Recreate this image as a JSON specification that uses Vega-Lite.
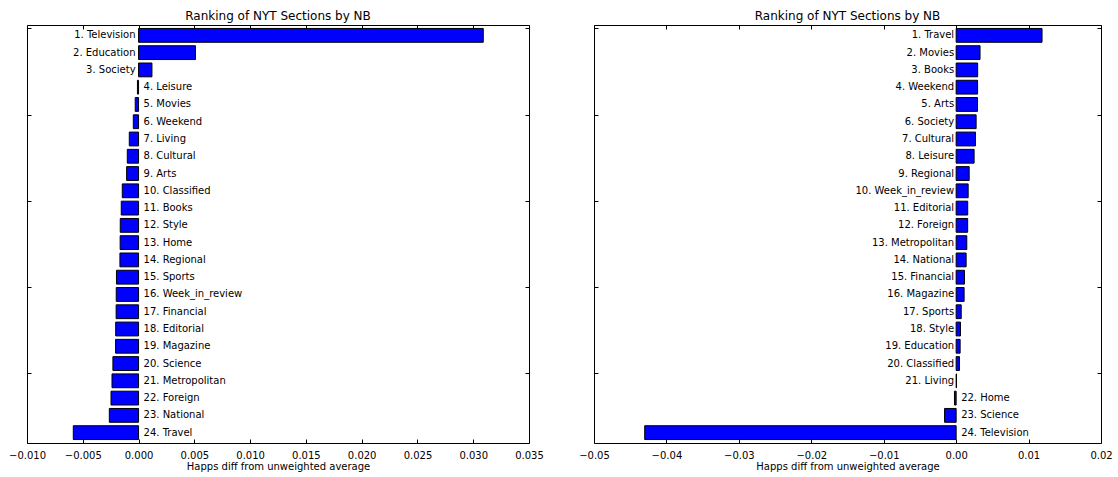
{
  "$schema": "https://vega.github.io/schema/vega-lite/v6.json",
  "padding": {"left": 7, "top": 9, "right": 5, "bottom": 5},
  "bounds": "flush",
  "spacing": 65,
  "background": "white",
  "config": {
    "font": "DejaVu Sans",
    "view": {"stroke": "black", "strokeWidth": 1},
    "axis": {
      "grid": false, "domain": false, "tickColor": "black", "tickSize": -4, "tickWidth": 1,
      "labelColor": "black", "labelFontSize": 10, "labelFont": "DejaVu Sans", "labelPadding": 11, "labelFlush": false, "labelOverlap": false,
      "titleFont": "DejaVu Sans", "titleFontSize": 10, "titleFontWeight": "normal", "titleColor": "black", "titlePadding": 1
    },
    "title": {"fontSize": 12, "font": "DejaVu Sans", "fontWeight": "normal", "color": "black", "offset": 2}
  },
  "datasets": {
    "left": [
      {"rank": 1, "label": "1. Television", "value": 0.0309},
      {"rank": 2, "label": "2. Education", "value": 0.0051},
      {"rank": 3, "label": "3. Society", "value": 0.0012},
      {"rank": 4, "label": "4. Leisure", "value": -0.0001},
      {"rank": 5, "label": "5. Movies", "value": -0.0003},
      {"rank": 6, "label": "6. Weekend", "value": -0.00047},
      {"rank": 7, "label": "7. Living", "value": -0.00083},
      {"rank": 8, "label": "8. Cultural", "value": -0.00101},
      {"rank": 9, "label": "9. Arts", "value": -0.00107},
      {"rank": 10, "label": "10. Classified", "value": -0.00146},
      {"rank": 11, "label": "11. Books", "value": -0.00155},
      {"rank": 12, "label": "12. Style", "value": -0.00164},
      {"rank": 13, "label": "13. Home", "value": -0.00165},
      {"rank": 14, "label": "14. Regional", "value": -0.00167},
      {"rank": 15, "label": "15. Sports", "value": -0.00198},
      {"rank": 16, "label": "16. Week_in_review", "value": -0.002},
      {"rank": 17, "label": "17. Financial", "value": -0.00201},
      {"rank": 18, "label": "18. Editorial", "value": -0.00205},
      {"rank": 19, "label": "19. Magazine", "value": -0.00206},
      {"rank": 20, "label": "20. Science", "value": -0.0023},
      {"rank": 21, "label": "21. Metropolitan", "value": -0.00238},
      {"rank": 22, "label": "22. Foreign", "value": -0.00247},
      {"rank": 23, "label": "23. National", "value": -0.00262},
      {"rank": 24, "label": "24. Travel", "value": -0.00585}
    ],
    "right": [
      {"rank": 1, "label": "1. Travel", "value": 0.01186},
      {"rank": 2, "label": "2. Movies", "value": 0.0033},
      {"rank": 3, "label": "3. Books", "value": 0.00297},
      {"rank": 4, "label": "4. Weekend", "value": 0.00296},
      {"rank": 5, "label": "5. Arts", "value": 0.00295},
      {"rank": 6, "label": "6. Society", "value": 0.00276},
      {"rank": 7, "label": "7. Cultural", "value": 0.00267},
      {"rank": 8, "label": "8. Leisure", "value": 0.00248},
      {"rank": 9, "label": "9. Regional", "value": 0.0018},
      {"rank": 10, "label": "10. Week_in_review", "value": 0.00166},
      {"rank": 11, "label": "11. Editorial", "value": 0.0016},
      {"rank": 12, "label": "12. Foreign", "value": 0.00159},
      {"rank": 13, "label": "13. Metropolitan", "value": 0.00147},
      {"rank": 14, "label": "14. National", "value": 0.00138},
      {"rank": 15, "label": "15. Financial", "value": 0.00115},
      {"rank": 16, "label": "16. Magazine", "value": 0.0011},
      {"rank": 17, "label": "17. Sports", "value": 0.0007},
      {"rank": 18, "label": "18. Style", "value": 0.0006},
      {"rank": 19, "label": "19. Education", "value": 0.00055},
      {"rank": 20, "label": "20. Classified", "value": 0.00046},
      {"rank": 21, "label": "21. Living", "value": 0.00005},
      {"rank": 22, "label": "22. Home", "value": -0.00023},
      {"rank": 23, "label": "23. Science", "value": -0.0016},
      {"rank": 24, "label": "24. Television", "value": -0.043}
    ]
  },
  "hconcat": [
    {
      "width": 502,
      "height": 418,
      "title": "Ranking of NYT Sections by NB",
      "data": {"name": "left"},
      "layer": [
        {
          "layer": [
            {
              "mark": {"type": "bar", "color": "#0000ff", "stroke": "black", "strokeWidth": 1},
              "encoding": {
                "y": {"field": "label", "type": "nominal", "sort": {"field": "rank", "op": "min"}, "axis": null, "scale": {"paddingInner": 0.2, "paddingOuter": 0.2}},
                "x": {"field": "value", "type": "quantitative", "scale": {"domain": [-0.01, 0.035], "nice": false, "zero": false}, "axis": null}
              }
            },
            {
              "transform": [{"filter": "datum.value > 0"}],
              "mark": {"type": "text", "align": "right", "baseline": "middle", "dx": -3, "fontSize": 10, "color": "black"},
              "encoding": {
                "y": {"field": "label", "type": "nominal", "sort": {"field": "rank", "op": "min"}, "axis": null},
                "x": {"datum": 0, "type": "quantitative", "axis": null},
                "text": {"field": "label"}
              }
            },
            {
              "transform": [{"filter": "datum.value <= 0"}],
              "mark": {"type": "text", "align": "left", "baseline": "middle", "dx": 5, "fontSize": 10, "color": "black"},
              "encoding": {
                "y": {"field": "label", "type": "nominal", "sort": {"field": "rank", "op": "min"}, "axis": null},
                "x": {"datum": 0, "type": "quantitative", "axis": null},
                "text": {"field": "label"}
              }
            }
          ]
        },
        {
          "mark": {"type": "point", "opacity": 0},
          "encoding": {
            "x": {"datum": 0, "type": "quantitative", "axis": {"orient": "bottom", "values": [-0.01, -0.005, 0, 0.005, 0.01, 0.015, 0.02, 0.025, 0.03, 0.035], "format": ".3f", "title": "Happs diff from unweighted average"}},
            "y": {"datum": 0, "type": "quantitative", "scale": {"domain": [-0.2, 24.03], "reverse": true, "nice": false, "zero": false}, "axis": {"orient": "left", "values": [0, 5, 10, 15, 20], "labels": false, "title": null}}
          }
        },
        {
          "mark": {"type": "point", "opacity": 0},
          "encoding": {
            "x": {"datum": 0, "type": "quantitative", "axis": {"orient": "top", "values": [-0.01, -0.005, 0, 0.005, 0.01, 0.015, 0.02, 0.025, 0.03, 0.035], "labels": false, "title": null}},
            "y": {"datum": 0, "type": "quantitative", "scale": {"domain": [-0.2, 24.03], "reverse": true, "nice": false, "zero": false}, "axis": {"orient": "right", "values": [0, 5, 10, 15, 20], "labels": false, "title": null}}
          }
        }
      ],
      "resolve": {"scale": {"y": "independent"}, "axis": {"x": "independent", "y": "independent"}}
    },
    {
      "width": 507,
      "height": 418,
      "title": "Ranking of NYT Sections by NB",
      "data": {"name": "right"},
      "layer": [
        {
          "layer": [
            {
              "mark": {"type": "bar", "color": "#0000ff", "stroke": "black", "strokeWidth": 1},
              "encoding": {
                "y": {"field": "label", "type": "nominal", "sort": {"field": "rank", "op": "min"}, "axis": null, "scale": {"paddingInner": 0.2, "paddingOuter": 0.2}},
                "x": {"field": "value", "type": "quantitative", "scale": {"domain": [-0.05, 0.02], "nice": false, "zero": false}, "axis": null}
              }
            },
            {
              "transform": [{"filter": "datum.value > 0"}],
              "mark": {"type": "text", "align": "right", "baseline": "middle", "dx": -2, "fontSize": 10, "color": "black"},
              "encoding": {
                "y": {"field": "label", "type": "nominal", "sort": {"field": "rank", "op": "min"}, "axis": null},
                "x": {"datum": 0, "type": "quantitative", "axis": null},
                "text": {"field": "label"}
              }
            },
            {
              "transform": [{"filter": "datum.value <= 0"}],
              "mark": {"type": "text", "align": "left", "baseline": "middle", "dx": 5, "fontSize": 10, "color": "black"},
              "encoding": {
                "y": {"field": "label", "type": "nominal", "sort": {"field": "rank", "op": "min"}, "axis": null},
                "x": {"datum": 0, "type": "quantitative", "axis": null},
                "text": {"field": "label"}
              }
            }
          ]
        },
        {
          "mark": {"type": "point", "opacity": 0},
          "encoding": {
            "x": {"datum": 0, "type": "quantitative", "axis": {"orient": "bottom", "values": [-0.05, -0.04, -0.03, -0.02, -0.01, 0, 0.01, 0.02], "format": ".2f", "title": "Happs diff from unweighted average"}},
            "y": {"datum": 0, "type": "quantitative", "scale": {"domain": [-0.2, 24.03], "reverse": true, "nice": false, "zero": false}, "axis": {"orient": "left", "values": [0, 5, 10, 15, 20], "labels": false, "title": null}}
          }
        },
        {
          "mark": {"type": "point", "opacity": 0},
          "encoding": {
            "x": {"datum": 0, "type": "quantitative", "axis": {"orient": "top", "values": [-0.05, -0.04, -0.03, -0.02, -0.01, 0, 0.01, 0.02], "labels": false, "title": null}},
            "y": {"datum": 0, "type": "quantitative", "scale": {"domain": [-0.2, 24.03], "reverse": true, "nice": false, "zero": false}, "axis": {"orient": "right", "values": [0, 5, 10, 15, 20], "labels": false, "title": null}}
          }
        }
      ],
      "resolve": {"scale": {"y": "independent"}, "axis": {"x": "independent", "y": "independent"}}
    }
  ]
}
